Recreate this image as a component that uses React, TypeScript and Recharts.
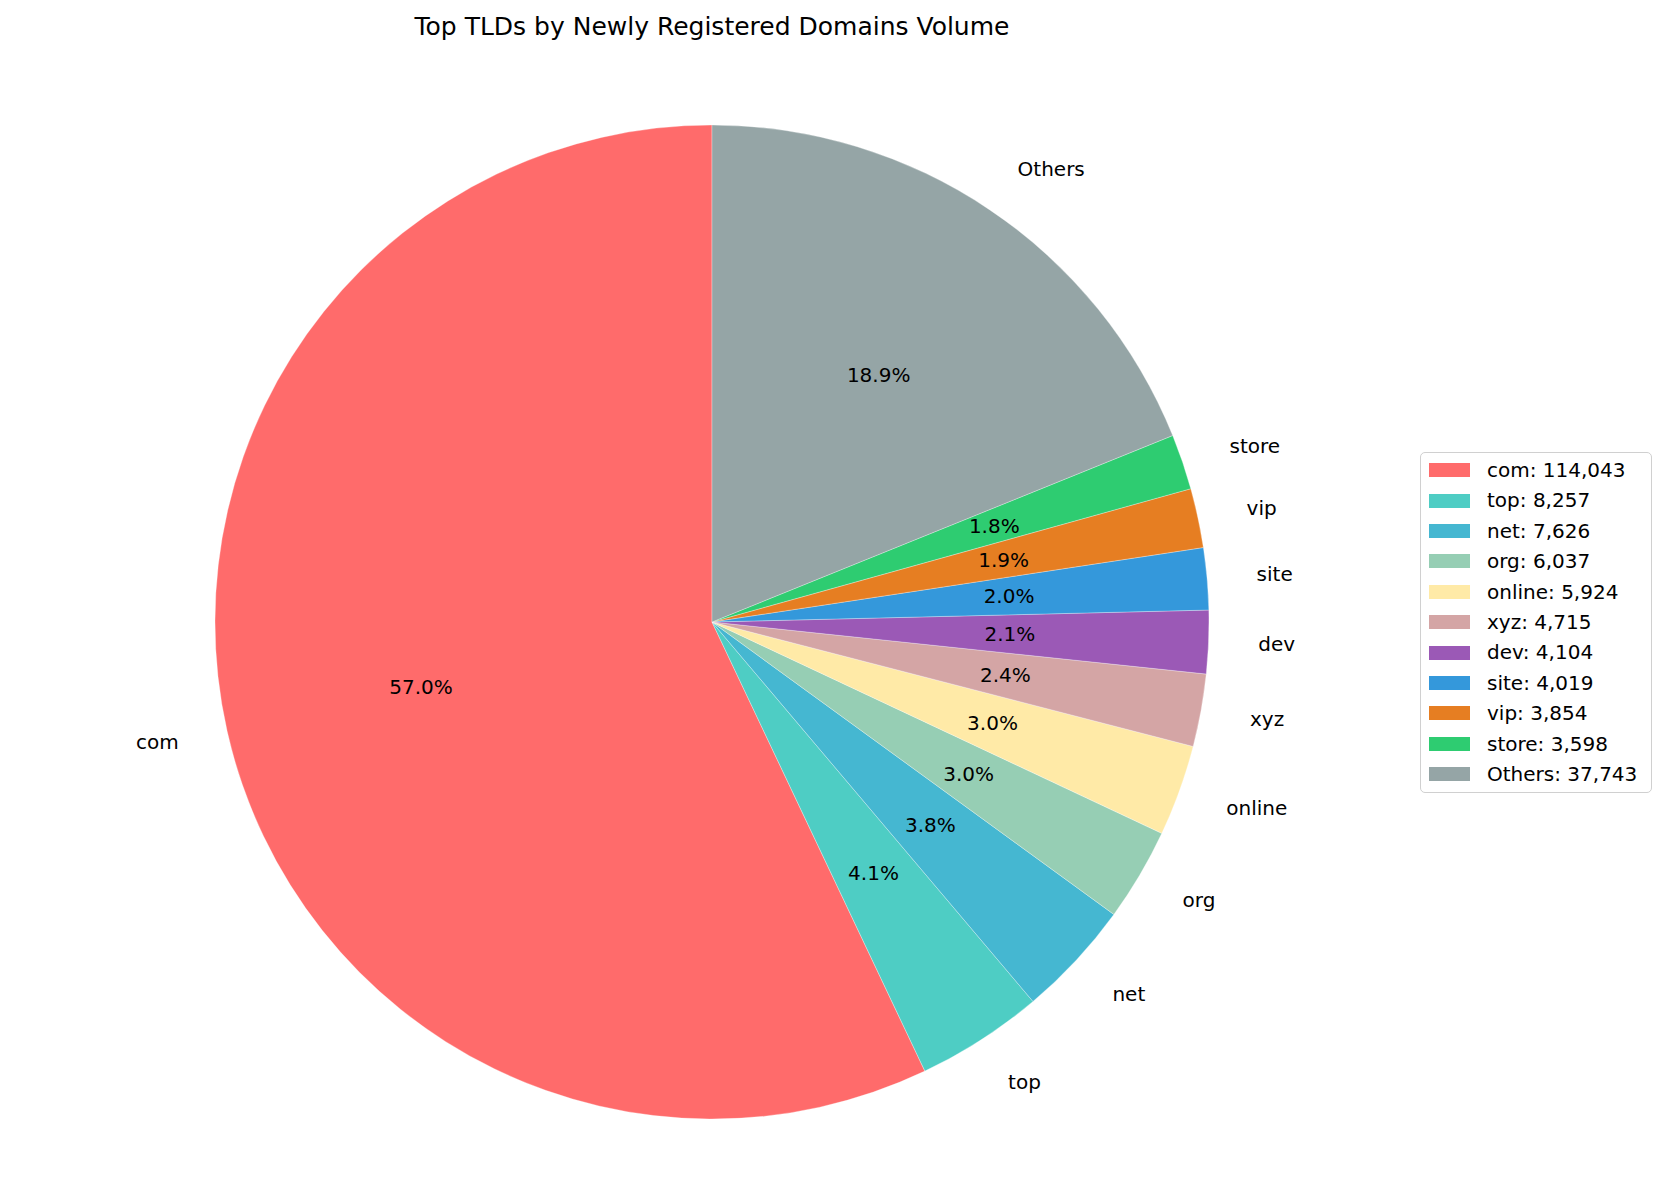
import React from "react";
import { PieChart, Pie, Cell, Legend } from "recharts";

const categories = ["com", "top", "net", "org", "online", "xyz", "dev", "site", "vip", "store", "Others"];
const volumes = [114043, 8257, 7626, 6037, 5924, 4715, 4104, 4019, 3854, 3598, 37743];
const colors = ["#FF6B6B", "#4ECDC4", "#45B7D1", "#96CEB4", "#FFEAA7", "#D4A5A5", "#9B59B6", "#3498DB", "#E67E22", "#2ECC71", "#95A5A6"];
const titleText = "Top TLDs by Newly Registered Domains Volume";

const data = categories.map((name, i) => ({ name, value: volumes[i] }));

const FONT = "'DejaVu Sans', sans-serif";
const RAD = Math.PI / 180;

const renderLabel = (props: any) => {
  const { cx, cy, midAngle, outerRadius, percent, name } = props;
  const cos = Math.cos(-midAngle * RAD);
  const sin = Math.sin(-midAngle * RAD);
  const ox = cx + outerRadius * 1.1 * cos;
  const oy = cy + outerRadius * 1.1 * sin;
  const ix = cx + outerRadius * 0.6 * cos;
  const iy = cy + outerRadius * 0.6 * sin;
  return (
    <g>
      <text x={ox} y={oy} textAnchor={cos >= 0 ? "start" : "end"} dominantBaseline="central" fontSize={20} fontFamily={FONT} fill="#000">
        {name}
      </text>
      <text x={ix} y={iy} textAnchor="middle" dominantBaseline="central" fontSize={20} fontFamily={FONT} fill="#000">
        {(percent * 100).toFixed(1)}%
      </text>
    </g>
  );
};

const renderLegend = () => (
  <div
    style={{
      boxSizing: "border-box",
      width: 232,
      height: 341,
      border: "1.5px solid #d0d0d0",
      borderRadius: 5,
      background: "rgba(255,255,255,0.8)",
      paddingTop: 2,
      fontFamily: FONT,
      fontSize: 20,
      color: "#000",
    }}
  >
    {categories.map((c, i) => (
      <div key={c} style={{ height: 30.4, display: "flex", alignItems: "center" }}>
        <div style={{ width: 41, height: 14, background: colors[i], marginLeft: 8 }} />
        <span style={{ marginLeft: 17, whiteSpace: "nowrap", lineHeight: "30.4px" }}>
          {c}: {volumes[i].toLocaleString("en-US")}
        </span>
      </div>
    ))}
  </div>
);

export default function App() {
  return (
    <div style={{ position: "absolute", left: 0, top: 0, width: 1666, height: 1185, background: "#fff" }}>
      <div
        style={{
          position: "absolute",
          left: 0,
          top: 13.5,
          width: 1424,
          textAlign: "center",
          fontFamily: FONT,
          fontSize: 25,
          lineHeight: "25px",
          color: "#000",
          whiteSpace: "nowrap",
        }}
      >
        {titleText}
      </div>
      <PieChart width={1666} height={1185} margin={{ top: 0, left: 0, right: 0, bottom: 0 }}>
        <Pie
          data={data}
          dataKey="value"
          nameKey="name"
          cx={712}
          cy={622}
          outerRadius={497}
          startAngle={90}
          endAngle={450}
          stroke="#ffffff"
          strokeWidth={0.5}
          strokeOpacity={0.6}
          label={renderLabel}
          labelLine={false}
          isAnimationActive={false}
        >
          {data.map((d, i) => (
            <Cell key={d.name} fill={colors[i]} />
          ))}
        </Pie>
        <Legend
          layout="vertical"
          align="right"
          verticalAlign="middle"
          content={renderLegend}
          wrapperStyle={{ left: 1420, top: 452, right: "auto", bottom: "auto", width: 232, height: 341 }}
        />
      </PieChart>
    </div>
  );
}
